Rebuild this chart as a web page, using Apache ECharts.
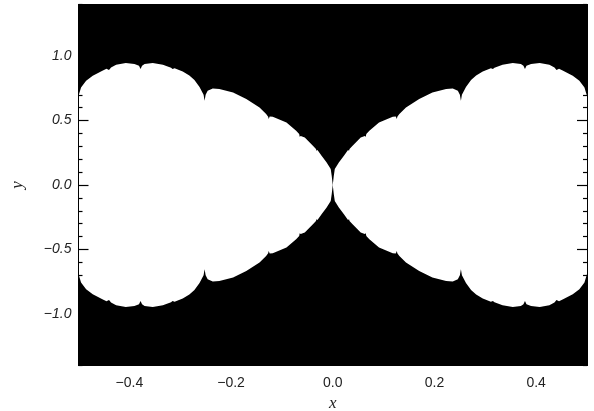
<!DOCTYPE html>
<html>
<head>
<meta charset="utf-8">
<script src="https://cdn.jsdelivr.net/npm/echarts@6/dist/echarts.min.js"></script>
<style>html,body{margin:0;padding:0;background:#fff}#c{width:594px;height:411px}</style>
</head>
<body>
<div id="c"></div>
<script>
// Upper boundary of the left lobe (data coords).
// The set is mirror-symmetric in x and in y.
const lobeX = [-0.5, -0.495, -0.485, -0.472, -0.453, -0.445, -0.440, -0.436, -0.426, -0.407, -0.390, -0.381, -0.378, -0.375, -0.370, -0.354, -0.334, -0.318, -0.315, -0.311, -0.295, -0.282, -0.272, -0.262, -0.254, -0.252, -0.250, -0.246, -0.236, -0.223, -0.196, -0.170, -0.144, -0.131, -0.127, -0.126, -0.124, -0.118, -0.091, -0.072, -0.066, -0.065, -0.063, -0.055, -0.039, -0.033, -0.032, -0.030, -0.022, -0.012, -0.004, -0.002, 0];
const lobeY = [0.69, 0.757, 0.809, 0.847, 0.886, 0.902, 0.892, 0.912, 0.933, 0.946, 0.938, 0.925, 0.899, 0.925, 0.938, 0.946, 0.933, 0.910, 0.899, 0.905, 0.880, 0.850, 0.815, 0.760, 0.70, 0.653, 0.70, 0.731, 0.749, 0.744, 0.718, 0.667, 0.602, 0.550, 0.530, 0.512, 0.532, 0.529, 0.485, 0.421, 0.395, 0.374, 0.380, 0.369, 0.305, 0.280, 0.266, 0.272, 0.227, 0.175, 0.124, 0.07, 0];
const lobes = [-1, 1]; // left lobe, right lobe (mirror)
const xLabelTicks = [-0.4, -0.2, 0.0, 0.2, 0.4];
const yMajorTicks = [-1.0, -0.5, 0.0, 0.5, 1.0];
const yMinorTicks = [-1.4, -1.3, -1.2, -1.1, -0.9, -0.8, -0.7, -0.6, -0.4, -0.3, -0.2, -0.1, 0.1, 0.2, 0.3, 0.4, 0.6, 0.7, 0.8, 0.9, 1.1, 1.2, 1.3, 1.4];
const xRange = [-0.5, 0.5];
const yRange = [-1.4, 1.4];

const fmt = v => { const s = Math.abs(v).toFixed(1); return v < -1e-9 ? '\u2212' + s : s; };
const labelFont = {fontFamily: 'Liberation Sans', fontSize: 14, color: '#222'};

function yAxisDef(position, ticks, len, showLabel) {
  return {
    type: 'value', position: position, min: yRange[0], max: yRange[1], z: 10,
    axisLine: {show: true, onZero: false, lineStyle: {color: '#000', width: 1}},
    axisTick: {show: true, inside: true, length: len, customValues: ticks, lineStyle: {color: '#000', width: 1.2}},
    axisLabel: {show: showLabel, customValues: ticks, formatter: fmt, margin: 7, fontStyle: 'italic', ...labelFont},
    splitLine: {show: false},
    name: showLabel ? 'y' : '', nameLocation: 'middle', nameGap: 52, nameRotate: 90,
    nameTextStyle: {fontFamily: 'Liberation Serif', fontStyle: 'italic', fontSize: 17, color: '#222'}
  };
}

const chart = echarts.init(document.getElementById('c'), null, {renderer: 'canvas'});
chart.setOption({
  animation: false,
  backgroundColor: '#fff',
  grid: {left: 78.5, right: 7, top: 4.5, bottom: 45.5, containLabel: false, outerBoundsMode: 'none', show: true, backgroundColor: '#000', borderColor: '#000', borderWidth: 1},
  xAxis: [{
    type: 'value', position: 'bottom', min: xRange[0], max: xRange[1], z: 10,
    axisLine: {show: true, onZero: false, lineStyle: {color: '#000'}},
    axisTick: {show: true, inside: true, customValues: xLabelTicks, length: 8, lineStyle: {color: '#000'}},
    axisLabel: {customValues: xLabelTicks, formatter: fmt, margin: 11, ...labelFont},
    splitLine: {show: false},
    name: 'x', nameLocation: 'middle', nameGap: 30,
    nameTextStyle: {fontFamily: 'Liberation Serif', fontStyle: 'italic', fontSize: 17, color: '#222'}
  }],
  yAxis: [
    yAxisDef('left', yMajorTicks, 10, true),
    yAxisDef('left', yMinorTicks, 4, false),
    yAxisDef('right', yMajorTicks, 10, false),
    yAxisDef('right', yMinorTicks, 4, false)
  ],
  series: [{
    type: 'custom',
    xAxisIndex: 0, yAxisIndex: 0,
    clip: true, z: 2,
    data: lobes.map(s => [s]),
    renderItem: function (params, api) {
      const side = api.value(0);
      const pts = [];
      for (let i = 0; i < lobeX.length; i++) pts.push(api.coord([side * -lobeX[i], lobeY[i]]));
      for (let i = lobeX.length - 1; i >= 0; i--) pts.push(api.coord([side * -lobeX[i], -lobeY[i]]));
      return {type: 'polygon', shape: {points: pts}, style: {fill: '#fff', stroke: null}};
    }
  }]
});
</script>
</body>
</html>
